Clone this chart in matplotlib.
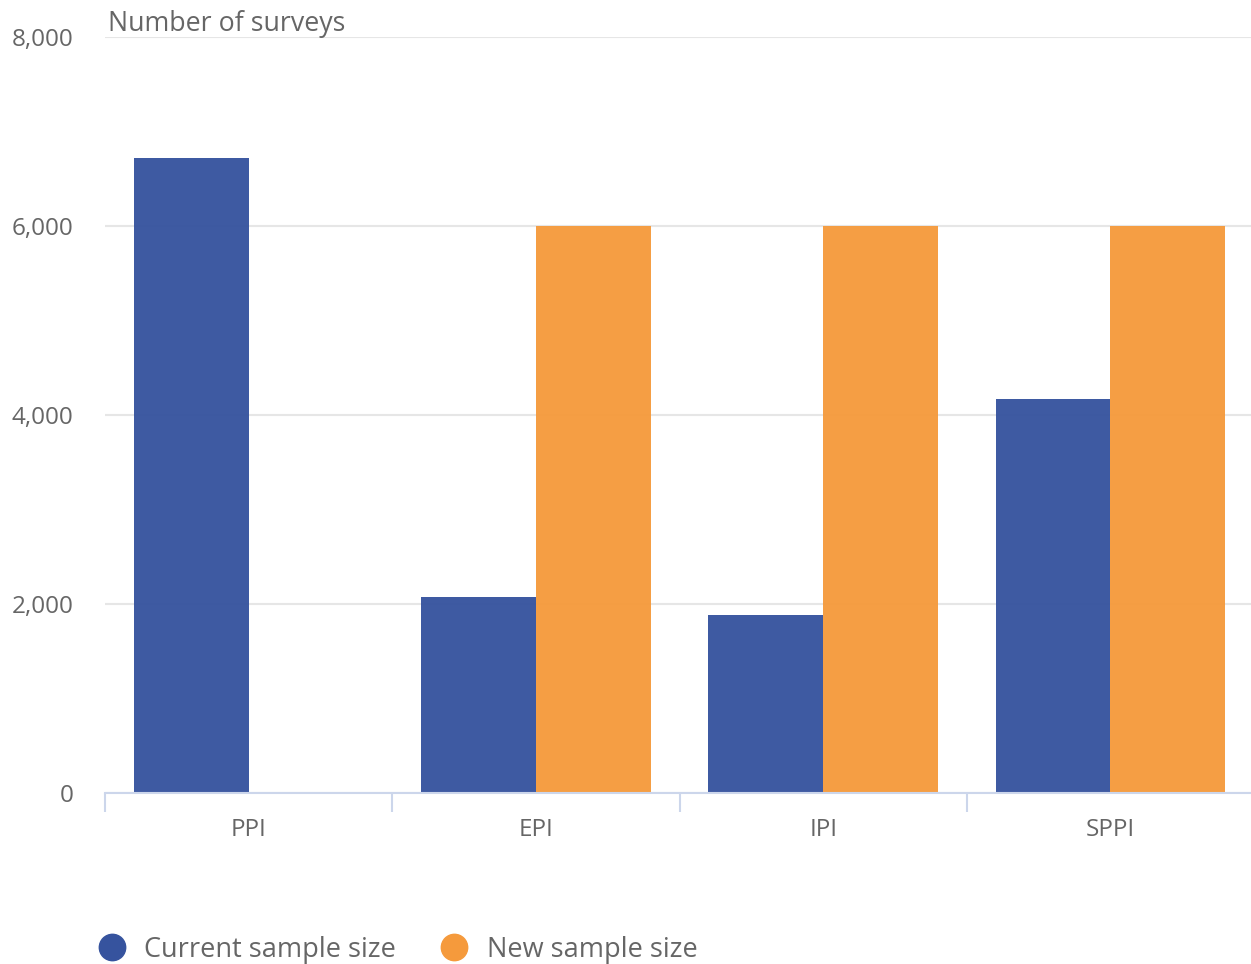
import matplotlib.pyplot as plt
from matplotlib.lines import Line2D
import numpy as np

plt.rcParams['font.family'] = ['Open Sans', 'DejaVu Sans']

# ---------- Data -------------
categories = ['PPI', 'EPI', 'IPI', 'SPPI']
current_size = [6720, 2080, 1890, 4170]
new_size = [0, 6000, 6000, 6000]
series_names = ['Current sample size', 'New sample size']

blue = '#36539e'
orange = '#f59a3c'
text_grey = '#666666'

fig = plt.figure(figsize=(12.51, 9.64), dpi=100)
ax = fig.add_axes([0.084, 0.177, 0.9185, 0.7845])

x = np.arange(len(categories))
w = 0.4
ax.bar(x - w / 2, current_size, width=w, color=blue, alpha=0.96, zorder=2)
ax.bar(x + w / 2, new_size, width=w, color=orange, alpha=0.96, zorder=2)

ax.set_xlim(-0.5, len(categories) - 0.5)
ax.set_ylim(0, 8000)
ax.set_yticks([0, 2000, 4000, 6000, 8000])
ax.set_yticklabels([f'{v:,}' for v in [0, 2000, 4000, 6000, 8000]],
                   fontsize=17.5, color=text_grey)
ax.tick_params(axis='y', length=0, pad=23)
ax.grid(axis='y', color='#e6e6e6', linewidth=1.5, zorder=0)
ax.set_axisbelow(True)

# category labels centred, ticks on the boundaries
ax.set_xticks(x)
ax.set_xticklabels(categories, fontsize=17.5, color=text_grey)
ax.tick_params(axis='x', which='major', length=0, pad=18)
ax.set_xticks(np.arange(-0.5, len(categories)), minor=True)
ax.tick_params(axis='x', which='minor', length=14, width=1.5, color='#ccd6eb')

for s in ['top', 'right', 'left']:
    ax.spines[s].set_visible(False)
ax.spines['bottom'].set_color('#ccd6eb')
ax.spines['bottom'].set_linewidth(1.5)

fig.text(0.086, 0.975, 'Number of surveys', fontsize=19.3, color=text_grey,
         ha='left', va='center')

handles = [Line2D([], [], marker='o', linestyle='', markersize=19, color=c)
           for c in [blue, orange]]
fig.legend(handles, series_names, loc='lower left', bbox_to_anchor=(0.048, -0.025),
           ncol=2, frameon=False, fontsize=19.5, labelcolor=text_grey,
           handletextpad=0.2, columnspacing=1.15)

fig.savefig('out.png', dpi=100)
